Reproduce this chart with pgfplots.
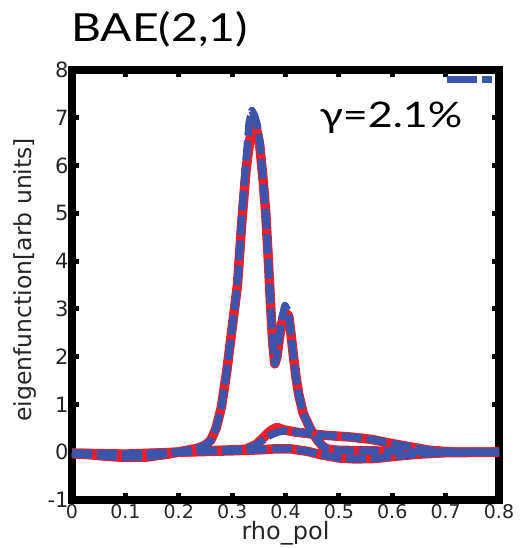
\documentclass[border=0pt]{standalone}
\usepackage{fontspec}
\setmainfont{DejaVu Sans}
\newfontfamily\latofont{Lato}
\usepackage{pgfplots}
\pgfplotsset{compat=1.18}
\definecolor{eblue}{RGB}{60,85,170}
\definecolor{ered}{RGB}{240,30,40}

\pgfplotstableread{
x y
0 -0.03
0.03 -0.05
0.06 -0.08
0.1 -0.11
0.14 -0.1
0.18 -0.04
0.21 0.03
0.235 0.08
0.25 0.15
0.26 0.25
0.27 0.5
0.28 0.95
0.29 1.7
0.30 2.6
0.31 3.5
0.318 4.9
0.326 6.1
0.332 6.9
0.337 7.15
0.342 7.05
0.347 6.85
0.352 6.5
0.358 5.7
0.363 5.0
0.368 4.0
0.372 3.1
0.376 2.3
0.380 1.85
0.384 2.0
0.388 2.4
0.393 2.8
0.399 3.07
0.405 2.95
0.410 2.5
0.415 2.0
0.420 1.55
0.425 1.2
0.433 0.82
0.446 0.5
0.46 0.25
0.47 0.12
0.48 0.06
0.5 0.04
0.55 0.03
0.6 0.02
0.65 0.01
0.7 0.0
0.8 0.0
}\blueA

\pgfplotstableread{
x y
0 -0.03
0.03 -0.05
0.06 -0.08
0.1 -0.11
0.14 -0.1
0.18 -0.04
0.21 0.03
0.235 0.08
0.25 0.15
0.26 0.25
0.27 0.5
0.28 0.95
0.29 1.7
0.30 2.6
0.31 3.5
0.318 4.8
0.326 5.9
0.334 6.6
0.341 6.88
0.347 6.7
0.352 6.4
0.358 5.7
0.363 5.0
0.368 4.0
0.372 3.1
0.376 2.3
0.380 1.85
0.384 2.0
0.388 2.35
0.393 2.7
0.400 2.92
0.406 2.85
0.410 2.5
0.415 2.0
0.420 1.55
0.425 1.2
0.433 0.82
0.446 0.5
0.46 0.25
0.47 0.12
0.48 0.06
0.5 0.04
0.55 0.03
0.6 0.02
0.65 0.01
0.7 0.0
0.8 0.0
}\redA

\pgfplotstableread{
x y
0 -0.02
0.1 -0.05
0.2 0.0
0.25 0.03
0.30 0.05
0.325 0.06
0.345 0.15
0.360 0.27
0.372 0.36
0.385 0.42
0.400 0.45
0.420 0.42
0.450 0.38
0.480 0.35
0.520 0.32
0.560 0.27
0.600 0.18
0.640 0.10
0.670 0.04
0.720 0.0
0.8 0.0
}\blueB

\pgfplotstableread{
x y
0 -0.02
0.1 -0.05
0.2 0.0
0.25 0.03
0.30 0.05
0.325 0.06
0.345 0.16
0.360 0.32
0.372 0.45
0.384 0.52
0.396 0.47
0.420 0.42
0.450 0.38
0.480 0.35
0.520 0.32
0.560 0.27
0.600 0.18
0.640 0.10
0.670 0.04
0.720 0.0
0.8 0.0
}\redB

\pgfplotstableread{
x y
0 -0.02
0.1 -0.04
0.2 0.0
0.3 0.03
0.35 0.05
0.38 0.07
0.41 0.07
0.44 0.02
0.47 -0.06
0.50 -0.12
0.53 -0.14
0.57 -0.13
0.60 -0.09
0.65 -0.04
0.70 -0.01
0.80 0.0
}\curveC

\begin{document}
\begin{tikzpicture}
\begin{axis}[
  scale only axis,
  width=427bp, height=430bp,
  xmin=0, xmax=0.8, ymin=-1, ymax=8,
  xtick={0,0.1,0.2,0.3,0.4,0.5,0.6,0.7,0.8},
  xticklabels={0,0.1,0.2,0.3,0.4,0.5,0.6,0.7,0.8},
  ytick={-1,0,1,2,3,4,5,6,7,8},
  yticklabels={-1,0,1,2,3,4,5,6,7,8},
  xtick pos=both, ytick pos=both,
  tick align=inside,
  major tick length=7bp,
  every tick/.style={black, line width=5bp},
  axis line style={line width=8bp, line join=miter},
  xticklabel style={font=\fontsize{19bp}{22bp}\selectfont, text=black!85, inner sep=1bp, yshift=-3bp},
  yticklabel style={font=\fontsize{21bp}{24bp}\selectfont, text=black!85},
  xlabel={rho\_pol},
  ylabel={eigenfunction[arb units]},
  xlabel style={font=\fontsize{24bp}{28bp}\selectfont, text=black!85, inner sep=0pt, at={(axis description cs:0.5,-0.0930)}, anchor=base},
  ylabel style={font=\fontsize{23.5bp}{28bp}\selectfont, text=black!85, at={(axis description cs:-0.110,0.512)}, anchor=center, rotate=0},
  every axis plot/.append style={line join=round},
]
\addplot[ered, line width=9.5bp] table {\redA};
\addplot[ered, line width=9.5bp] table {\redB};
\addplot[ered, line width=9.5bp] table {\curveC};
\addplot[eblue, line width=7.5bp, dash pattern=on 20bp off 5bp] table {\blueA};
\addplot[eblue, line width=7.5bp, dash pattern=on 20bp off 5bp] table {\blueB};
\addplot[eblue, line width=7.5bp, dash pattern=on 20bp off 5bp] table {\curveC};
\draw[eblue, line width=7bp, dash pattern=on 30bp off 5bp] (rel axis cs:0.878,0.979) -- (rel axis cs:0.984,0.979);
\node[anchor=base, inner sep=0pt] at (rel axis cs:0.747,0.867) {\scalebox{1}[0.82]{\latofont\fontsize{43bp}{50bp}\selectfont γ=2.1\%}};
\coordinate (ll) at (rel axis cs:0,0);
\coordinate (ur) at (rel axis cs:1,1);
\end{axis}
\path (ll |- ur) coordinate (tl);
\node[anchor=base west, inner sep=0pt] at ([shift={(-1bp,28bp)}]tl) {\scalebox{1.03}[0.86]{\latofont\fontsize{45bp}{52bp}\selectfont BAE(2,1)}};
\pgfresetboundingbox
\path[use as bounding box] ([shift={(-72bp,-48bp)}]ll) rectangle ([shift={(25bp,70bp)}]ur);
\end{tikzpicture}
\end{document}
